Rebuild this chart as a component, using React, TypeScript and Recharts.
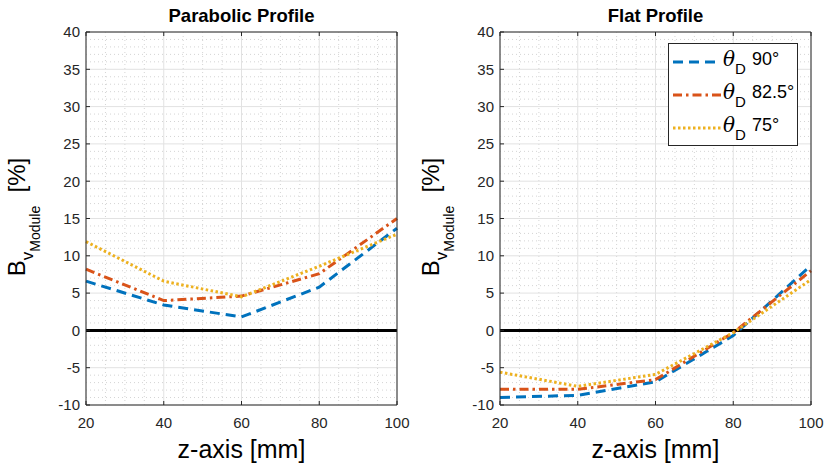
import { LineChart, Line, XAxis, YAxis, CartesianGrid, ReferenceLine, Legend } from 'recharts';

// z positions along the axis [mm]
const zPositions = [20, 40, 60, 80, 100];

// parabolic profile, B_v error [%]
const parabolic90 = [6.6, 3.4, 1.8, 5.8, 13.7];
const parabolic825 = [8.2, 4.0, 4.6, 7.6, 15.0];
const parabolic75 = [11.9, 6.6, 4.5, 8.6, 12.9];

// flat profile, B_v error [%]
const flat90 = [-9.0, -8.7, -6.9, -0.7, 8.7];
const flat825 = [-7.9, -7.9, -6.6, -0.3, 8.0];
const flat75 = [-5.6, -7.5, -5.9, -0.3, 6.8];

const xTicks = [20, 40, 60, 80, 100];
const yTicks = [-10, -5, 0, 5, 10, 15, 20, 25, 30, 35, 40];
const xMinor = [25, 30, 35, 45, 50, 55, 65, 70, 75, 85, 90, 95];
const yMinor: number[] = [];
for (let v = -9; v < 40; v++) if (v % 5 !== 0) yMinor.push(v);

const series = [
  { key: 'd90', label: '90°', color: '#0072BD', dash: '10 6' },
  { key: 'd825', label: '82.5°', color: '#D95319', dash: '9 4 2.5 4' },
  { key: 'd75', label: '75°', color: '#EDB120', dash: '2.5 2.5' },
];

const buildRows = (a: number[], b: number[], c: number[]) =>
  zPositions.map((z, i) => ({ z, d90: a[i], d825: b[i], d75: c[i] }));

const parabolicRows = buildRows(parabolic90, parabolic825, parabolic75);
const flatRows = buildRows(flat90, flat825, flat75);

const AXIS = '#262626';
const FONT = '"Liberation Sans", Arial, Helvetica, sans-serif';

const LegendBox = () => (
  <div style={{ paddingTop: 1, fontFamily: FONT, color: '#000' }}>
    {series.map((s) => (
      <div key={s.key} style={{ height: 33, display: 'flex', alignItems: 'center' }}>
        <svg width={54} height={33} style={{ flex: 'none' }}>
          <line x1={4} x2={52} y1={17} y2={17} stroke={s.color} strokeWidth={3} strokeDasharray={s.dash} />
        </svg>
        <span style={{ fontSize: 20, fontStyle: 'italic', fontFamily: '"DejaVu Serif", serif', marginTop: -5 }}>θ</span>
        <span style={{ fontSize: 15, position: 'relative', top: 7 }}>D</span>
        <span style={{ fontSize: 18, marginLeft: 6, marginTop: -5 }}>{s.label}</span>
      </div>
    ))}
  </div>
);

const YLabel = () => (
  <text transform="rotate(-90, 25, 217)" x={25} y={217} textAnchor="middle" fill="#000" fontFamily={FONT}>
    <tspan fontSize={24}>B</tspan>
    <tspan fontSize={17} dy={8}>v</tspan>
    <tspan fontSize={14} dy={7}>Module</tspan>
    <tspan fontSize={24} dy={-15}>{'\u00a0\u00a0'}[%]</tspan>
  </text>
);

interface ProfileProps {
  title: string;
  rows: any[];
  showLegend?: boolean;
}

const ProfileChart = ({ title, rows, showLegend = false }: ProfileProps) => (
  <LineChart width={412} height={465} data={rows} margin={{ top: 31, right: 14, bottom: 10, left: 26 }}>
    <CartesianGrid stroke="#d4d4d4" strokeDasharray="1 3" horizontalValues={yMinor} verticalValues={xMinor} />
    <CartesianGrid stroke="#e2e2e2" horizontalValues={yTicks} verticalValues={xTicks} />
    <XAxis
      dataKey="z"
      type="number"
      domain={[20, 100]}
      ticks={xTicks}
      interval={0}
      height={50}
      stroke={AXIS}
      tickSize={-4}
      tickMargin={16}
      tick={{ fill: AXIS, fontSize: 15, fontFamily: FONT }}
      label={({ viewBox }: any) => (
        <text x={viewBox.x + viewBox.width / 2} y={458} textAnchor="middle" fontSize={25} fill="#000" fontFamily={FONT}>
          z-axis [mm]
        </text>
      )}
    />
    <XAxis
      xAxisId="top"
      orientation="top"
      dataKey="z"
      type="number"
      domain={[20, 100]}
      ticks={xTicks}
      interval={0}
      height={1}
      stroke={AXIS}
      tickSize={-4}
      tick={() => <g />}
      label={({ viewBox }: any) => (
        <text x={viewBox.x + viewBox.width / 2} y={22} textAnchor="middle" fontSize={18.5} fontWeight="bold" fill="#000" fontFamily={FONT}>
          {title}
        </text>
      )}
    />
    <YAxis
      type="number"
      domain={[-10, 40]}
      ticks={yTicks}
      interval={0}
      width={60}
      stroke={AXIS}
      tickSize={-4}
      tickMargin={10}
      tick={{ fill: AXIS, fontSize: 15, fontFamily: FONT }}
      label={() => <YLabel />}
    />
    <YAxis
      yAxisId="right"
      orientation="right"
      type="number"
      domain={[-10, 40]}
      ticks={yTicks}
      interval={0}
      width={1}
      stroke={AXIS}
      tickSize={-4}
      tick={() => <g />}
    />
    <ReferenceLine y={0} stroke="#000" strokeWidth={3} />
    {series.map((s) => (
      <Line
        key={s.key}
        dataKey={s.key}
        stroke={s.color}
        strokeWidth={3}
        strokeDasharray={s.dash}
        dot={false}
        type="linear"
        isAnimationActive={false}
      />
    ))}
    {showLegend && (
      <Legend
        layout="vertical"
        align="center"
        verticalAlign="middle"
        content={() => <LegendBox />}
        wrapperStyle={{
          left: 254,
          top: 43,
          width: 130,
          height: 103,
          border: '1px solid #262626',
          background: '#fff',
          boxSizing: 'border-box',
        }}
      />
    )}
  </LineChart>
);

export default function App() {
  return (
    <div style={{ position: 'absolute', left: 0, top: 0, width: 824, height: 465, background: '#fff', fontFamily: FONT }}>
      <div style={{ position: 'absolute', left: 0, top: 0 }}>
        <ProfileChart title="Parabolic Profile" rows={parabolicRows} />
      </div>
      <div style={{ position: 'absolute', left: 414, top: 0 }}>
        <ProfileChart title="Flat Profile" rows={flatRows} showLegend />
      </div>
    </div>
  );
}
